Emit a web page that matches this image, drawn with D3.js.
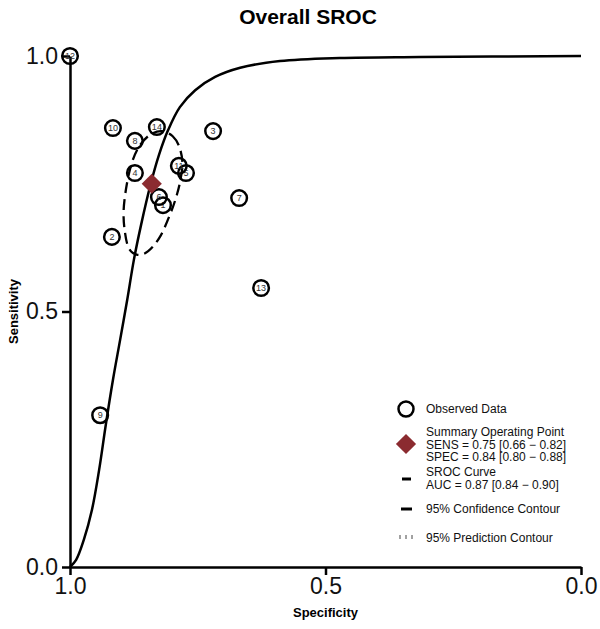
<!DOCTYPE html>
<html>
<head>
<meta charset="utf-8">
<script src="https://cdn.jsdelivr.net/npm/d3@7"></script>
<style>
  body { margin: 0; background: #fff; }
  svg { display: block; font-family: "Liberation Sans", Arial, sans-serif; }
</style>
</head>
<body>
<svg id="chart" width="600" height="629"></svg>
<script>
// study ids with specificity / sensitivity
const studyIds = [1, 2, 3, 4, 5, 6, 7, 8, 9, 10, 11, 12, 13, 14];
const studySpec = [0.818, 0.918, 0.720, 0.873, 0.773, 0.826, 0.669, 0.873, 0.941, 0.916, 0.787, 1.000, 0.626, 0.830];
const studySens = [0.708, 0.646, 0.853, 0.771, 0.771, 0.724, 0.722, 0.834, 0.297, 0.859, 0.785, 1.000, 0.546, 0.861];

// summary operating point
const summarySpec = 0.84;
const summarySens = 0.75;

// SROC curve, points
const srocSpec = [1.000, 0.988, 0.973, 0.957, 0.943, 0.930, 0.916, 0.902, 0.888, 0.875, 0.861, 0.843, 0.826, 0.808, 0.785, 0.755, 0.716, 0.667, 0.589, 0.472, 0.315, 0.000];
const srocSens = [0.000, 0.014, 0.053, 0.112, 0.190, 0.278, 0.366, 0.444, 0.523, 0.601, 0.669, 0.746, 0.806, 0.855, 0.900, 0.933, 0.959, 0.977, 0.990, 0.996, 0.998, 1.000];

// 95% confidence contour, traced around the ellipse
const confSpec = [0.820, 0.799, 0.786, 0.780, 0.784, 0.791, 0.803, 0.824, 0.847, 0.868, 0.885, 0.893, 0.895, 0.889, 0.879, 0.864, 0.843];
const confSens = [0.853, 0.843, 0.822, 0.791, 0.757, 0.728, 0.693, 0.646, 0.618, 0.611, 0.624, 0.659, 0.699, 0.748, 0.791, 0.824, 0.846];

const tickValues = [0, 0.5, 1];
const legendLabels = [
    ["Observed Data"],
    ["Summary Operating Point", "SENS = 0.75 [0.66 \u2212 0.82]", "SPEC = 0.84 [0.80 \u2212 0.88]"],
    ["SROC Curve", "AUC = 0.87 [0.84 \u2212 0.90]"],
    ["95% Confidence Contour"],
    ["95% Prediction Contour"]
];

// TODO: config
const plotLeft = 70, plotRight = 581, plotTop = 56, plotBottom = 567;
const summaryColor = "#8b2b30";

const svg = d3.select("#chart");

const x = d3.scaleLinear().domain([1, 0]).range([plotLeft, plotRight]);
const y = d3.scaleLinear().domain([0, 1]).range([plotBottom, plotTop]);

// title
svg.append("text")
    .attr("x", 308).attr("y", 24)
    .attr("text-anchor", "middle")
    .attr("font-size", 21).attr("font-weight", "bold")
    .text("Overall SROC");

// axes
const yAxis = d3.axisLeft(y).tickValues(tickValues).tickFormat(d3.format(".1f"))
    .tickSize(8).tickSizeOuter(0).tickPadding(4);
const xAxis = d3.axisBottom(x).tickValues(tickValues).tickFormat(d3.format(".1f"))
    .tickSize(8).tickSizeOuter(0).tickPadding(3);

const gy = svg.append("g").attr("transform", `translate(${plotLeft},0)`).call(yAxis);
const gx = svg.append("g").attr("transform", `translate(0,${plotBottom})`).call(xAxis);

[gx, gy].forEach(g => {
    g.selectAll("path, line").attr("stroke", "#000").attr("stroke-width", 2.5);
    g.selectAll("text").attr("font-size", 23).attr("fill", "#111")
        .attr("font-family", "'Liberation Sans', Arial, sans-serif");
});

svg.append("text")
    .attr("transform", `translate(18,${(plotTop + plotBottom) / 2}) rotate(-90)`)
    .attr("text-anchor", "middle")
    .attr("font-size", 13).attr("font-weight", "bold")
    .text("Sensitivity");

svg.append("text")
    .attr("x", (plotLeft + plotRight) / 2).attr("y", 617)
    .attr("text-anchor", "middle")
    .attr("font-size", 13).attr("font-weight", "bold")
    .text("Specificity");

// SROC curve
const srocData = srocSpec.map((s, i) => [s, srocSens[i]]);
svg.append("path")
    .datum(srocData)
    .attr("fill", "none")
    .attr("stroke", "#000")
    .attr("stroke-width", 2.5)
    .attr("d", d3.line().x(d => x(d[0])).y(d => y(d[1])).curve(d3.curveCatmullRom.alpha(0.5)));

// confidence contour
const confData = confSpec.map((s, i) => [s, confSens[i]]);
svg.append("path")
    .datum(confData)
    .attr("fill", "none")
    .attr("stroke", "#000")
    .attr("stroke-width", 2.3)
    .attr("stroke-dasharray", "11,6")
    .attr("d", d3.line().x(d => x(d[0])).y(d => y(d[1])).curve(d3.curveCardinalClosed));

// studies
const studies = studyIds.map((id, i) => ({ id, spec: studySpec[i], sens: studySens[i] }));
const studyG = svg.append("g").selectAll("g").data(studies).enter().append("g")
    .attr("transform", d => `translate(${x(d.spec)},${y(d.sens)})`);

studyG.append("circle")
    .attr("r", 7.8)
    .attr("fill", "none")
    .attr("stroke", "#000")
    .attr("stroke-width", 2.5);

studyG.append("text")
    .attr("text-anchor", "middle")
    .attr("dy", "0.35em")
    .attr("font-size", 9)
    .attr("fill", "#333")
    .text(d => d.id);

// summary point
const diamond = d3.symbol().type(d3.symbolDiamond2).size(260);
svg.append("path")
    .attr("d", diamond())
    .attr("transform", `translate(${x(summarySpec)},${y(summarySens)})`)
    .attr("fill", summaryColor);

// ############# legend #############
const lg = svg.append("g").attr("font-size", 12).attr("fill", "#111");
const legendX = 426, symX = 406;
const legendRows = [413, 436, 476, 513, 542];
const lineStep = 12.5;

legendLabels.forEach((lines, i) => {
    lines.forEach((t, j) => {
        lg.append("text")
            .attr("x", legendX)
            .attr("y", legendRows[i] + j * lineStep)
            .text(t);
    });
});

lg.append("circle")
    .attr("cx", symX).attr("cy", 409).attr("r", 7.5)
    .attr("fill", "none").attr("stroke", "#000").attr("stroke-width", 2.5);

lg.append("path")
    .attr("d", diamond())
    .attr("transform", `translate(${symX},444)`)
    .attr("fill", summaryColor);

lg.append("line")
    .attr("x1", symX - 4).attr("x2", symX + 5)
    .attr("y1", 479).attr("y2", 479)
    .attr("stroke", "#000").attr("stroke-width", 3);

lg.append("line")
    .attr("x1", symX - 5).attr("x2", symX + 6)
    .attr("y1", 509).attr("y2", 509)
    .attr("stroke", "#000").attr("stroke-width", 3);

lg.selectAll(".predTick").data([-6, 0, 6]).enter().append("line")
    .attr("class", "predTick")
    .attr("x1", d => symX + d).attr("x2", d => symX + d)
    .attr("y1", 535).attr("y2", 539)
    .attr("stroke", "#444").attr("stroke-width", 1);
</script>
</body>
</html>
